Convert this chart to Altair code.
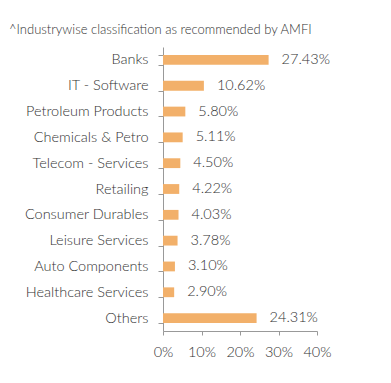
import altair as alt
import pandas as pd

categories = ["Banks", "IT - Software", "Petroleum Products", "Chemicals & Petro",
              "Telecom - Services", "Retailing", "Consumer Durables", "Leisure Services",
              "Auto Components", "Healthcare Services", "Others"]
values = [27.43, 10.62, 5.80, 5.11, 4.50, 4.22, 4.03, 3.78, 3.10, 2.90, 24.31]
labels = ["27.43%", "10.62%", "5.80%", "5.11%", "4.50%", "4.22%", "4.03%", "3.78%",
          "3.10%", "2.90%", "24.31%"]
ticks = [0, 10, 20, 30, 40]
title_text = ["^Industrywise classification as recommended by AMFI"]

df = pd.DataFrame({"cat": categories, "val": values, "lab": labels})
tdf = pd.DataFrame({"t": title_text})

FONT = "Lato"
TXT = "#333333"

base = alt.Chart(df).encode(
    y=alt.Y("cat:N", sort=categories, title=None,
            scale=alt.Scale(paddingInner=0.62, paddingOuter=0.31),
            axis=alt.Axis(tickBand="extent", tickSize=5, labelPadding=10,
                          domainColor="#999999", tickColor="#999999",
                          labelFont=FONT, labelFontSize=14.5, labelColor=TXT,
                          labelFontWeight=300)),
)

xscale = alt.Scale(domain=[0, 40], nice=False)
xaxis = alt.Axis(values=ticks, labelExpr="datum.value + '%'",
                 grid=False, tickSize=4, labelPadding=10, labelOverlap=False,
                 labelFlush=False, labelBound=False,
                 domainColor="#999999", tickColor="#999999",
                 labelFont=FONT, labelFontSize=14.5, labelColor=TXT,
                 labelFontWeight=300)

bars = base.mark_bar(color="#F2B06A").encode(
    x=alt.X("val:Q", title=None, scale=xscale, axis=xaxis),
)

text = base.mark_text(align="left", baseline="middle", dx=13, font=FONT,
                      fontSize=14.5, fontWeight=300, color=TXT).encode(
    x=alt.X("val:Q", title=None, scale=xscale, axis=xaxis), text="lab:N"
)

title = alt.Chart(tdf).mark_text(align="left", baseline="alphabetic", font=FONT,
                                 fontSize=13, fontWeight=300, color=TXT).encode(
    x=alt.value(-154), y=alt.value(-13), text="t:N"
)

chart = (bars + text + title).properties(
    width=154, height=284,
    padding={"left": 155, "top": 39, "right": 60, "bottom": 40},
    autosize=alt.AutoSizeParams(type="none"),
).configure_view(stroke=None)

chart.save("out.html", embed_options={"renderer": "svg", "actions": False})
